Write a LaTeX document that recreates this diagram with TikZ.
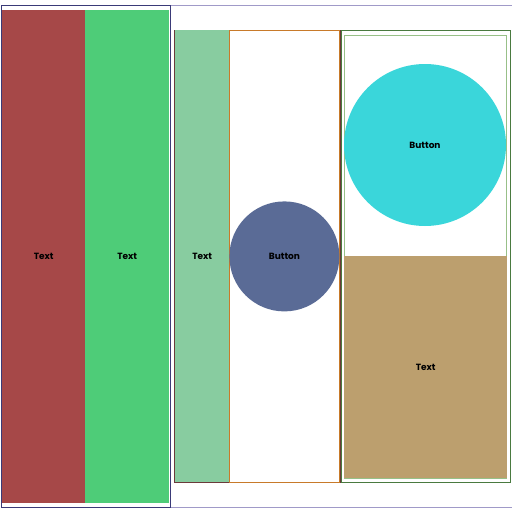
\documentclass[tikz,border=0pt]{standalone}
\usepackage{fontspec}
\setmainfont{Poppins}
\definecolor{panelred}{HTML}{A64848}
\definecolor{panelgreen}{HTML}{4ECC78}
\definecolor{palegreen}{HTML}{88CCA0}
\definecolor{buttonblue}{HTML}{5A6B96}
\definecolor{buttoncyan}{HTML}{3AD6DA}
\definecolor{paneltan}{HTML}{BC9F6E}
\definecolor{framenavy}{HTML}{3A3A78}
\definecolor{framelavender}{HTML}{A09AC8}
\definecolor{framemaroon}{HTML}{6B3A3A}
\definecolor{frameorange}{HTML}{C87A2A}
\definecolor{framedkgreen}{HTML}{4A7A40}
\definecolor{framelime}{HTML}{98C088}
\begin{document}
\begin{tikzpicture}[x=1pt, y=-1pt,
        every node/.style={font=\fontsize{9pt}{11pt}\selectfont\bfseries},
        box/.style={rectangle, inner sep=0pt, anchor=north west},
        frame/.style={box, draw=#1, line width=0.8pt},
        panel/.style={box, fill=#1},
        button/.style={circle, inner sep=0pt, fill=#1}]
    \useasboundingbox (0,0) rectangle (512,512);
    % outer frames
    \node[frame=framelavender, minimum width=511pt, minimum height=502pt] (outer) at (0.5,5) {};
    \node[frame=framenavy, minimum width=169.5pt, minimum height=502pt] (leftframe) at (0.5,5) {};
    % left column
    \node[panel=panelred, minimum width=83pt, minimum height=493pt] (redpanel) at (2,10) {Text};
    \node[panel=panelgreen, minimum width=84pt, minimum height=493pt] (greenpanel) at (85,10) {Text};
    % middle column
    \node[frame=framemaroon, minimum width=166.5pt, minimum height=452pt] (midframe) at (173.5,30) {};
    \node[panel=palegreen, minimum width=54pt, minimum height=452pt] (midtext) at (175,30) {Text};
    \node[frame=frameorange, minimum width=110pt, minimum height=452pt] (midbox) at (229,30) {};
    \node[button=buttonblue, minimum size=110pt] (bluebutton) at (midbox.center) {Button};
    % right column
    \node[frame=framedkgreen, minimum width=168.5pt, minimum height=452pt] (rightframe) at (341,30) {};
    \node[frame=framelime, minimum width=162pt, minimum height=443pt] (rightbox) at (344,35) {};
    \node[button=buttoncyan, minimum size=162pt] (cyanbutton) at (425,145) {Button};
    \node[panel=paneltan, minimum width=163pt, minimum height=222pt] (tanpanel) at (344,256) {Text};
\end{tikzpicture}
\end{document}
